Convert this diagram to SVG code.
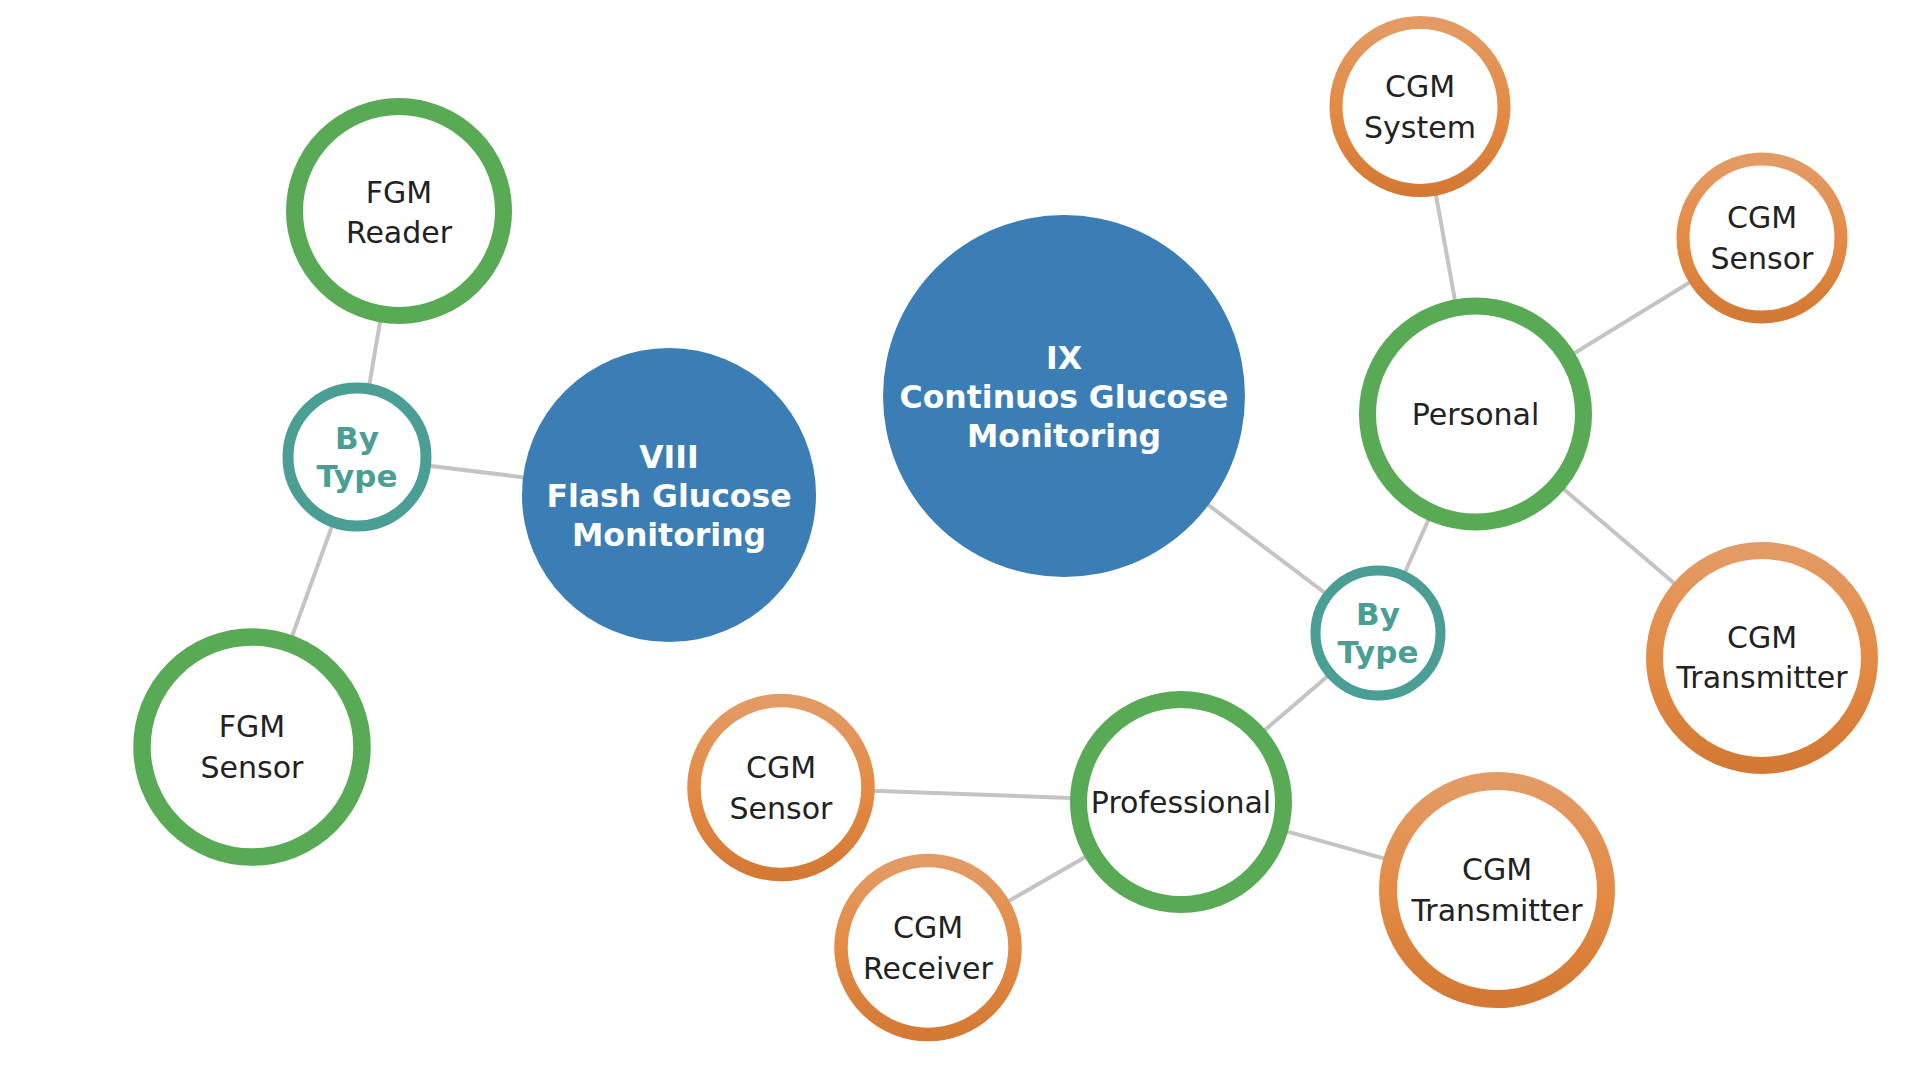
<svg xmlns="http://www.w3.org/2000/svg" width="1919" height="1080" viewBox="0 0 1919 1080">
  <defs>
    <linearGradient id="orangeGrad" x1="0" y1="0" x2="0" y2="1">
      <stop offset="0" stop-color="#e39b65"/>
      <stop offset="0.5" stop-color="#e48b45"/>
      <stop offset="1" stop-color="#d47933"/>
    </linearGradient>
  </defs>
  <style>
    .edge { stroke: #c4c4c4; stroke-width: 4; fill: none; }
    .green { fill: #ffffff; stroke: #58aa55; }
    .teal { fill: #ffffff; stroke: #4a9e94; }
    .orange { fill: #ffffff; stroke: url(#orangeGrad); }
    .blue { fill: #3a7eb5; stroke: none; }
    .lbl { font-family: "DejaVu Sans", Verdana, sans-serif; font-size: 30px; fill: #222222; text-anchor: middle; }
    .lblTeal { font-family: "DejaVu Sans", Verdana, sans-serif; font-size: 31px; font-weight: bold; fill: #4a9e94; text-anchor: middle; }
    .lblMain { font-family: "DejaVu Sans", Verdana, sans-serif; font-size: 31.5px; font-weight: bold; fill: #ffffff; text-anchor: middle; }
  </style>
  <rect width="1919" height="1080" fill="#ffffff"/>

  <g id="connectors">
    <line class="edge" x1="399" y1="211" x2="357" y2="457"/>
    <line class="edge" x1="357" y1="457" x2="669" y2="495"/>
    <line class="edge" x1="357" y1="457" x2="252" y2="747"/>
    <line class="edge" x1="1064" y1="396" x2="1378" y2="633"/>
    <line class="edge" x1="1378" y1="633" x2="1475.5" y2="414"/>
    <line class="edge" x1="1378" y1="633" x2="1181" y2="802"/>
    <line class="edge" x1="1475.5" y1="414" x2="1420" y2="106.5"/>
    <line class="edge" x1="1475.5" y1="414" x2="1762" y2="238"/>
    <line class="edge" x1="1475.5" y1="414" x2="1762" y2="658"/>
    <line class="edge" x1="1181" y1="802" x2="781" y2="787.5"/>
    <line class="edge" x1="1181" y1="802" x2="928" y2="947.5"/>
    <line class="edge" x1="1181" y1="802" x2="1497" y2="890"/>
  </g>

  <g id="node-fgm-reader">
    <circle class="green" cx="399" cy="211" r="104.5" stroke-width="17"/>
    <text class="lbl" x="399" y="202.5">FGM</text>
    <text class="lbl" x="399" y="243">Reader</text>
  </g>

  <g id="node-bytype-left">
    <circle class="teal" cx="357" cy="457" r="69" stroke-width="11"/>
    <text class="lblTeal" x="357" y="449">By</text>
    <text class="lblTeal" x="357" y="486.5">Type</text>
  </g>

  <g id="node-viii">
    <circle class="blue" cx="669" cy="495" r="147"/>
    <text class="lblMain" x="669" y="467.5">VIII</text>
    <text class="lblMain" x="669" y="506.5">Flash Glucose</text>
    <text class="lblMain" x="669" y="545.5">Monitoring</text>
  </g>

  <g id="node-fgm-sensor">
    <circle class="green" cx="252" cy="747" r="110" stroke-width="17.5"/>
    <text class="lbl" x="252" y="737">FGM</text>
    <text class="lbl" x="252" y="777.5">Sensor</text>
  </g>

  <g id="node-ix">
    <circle class="blue" cx="1064" cy="396" r="181"/>
    <text class="lblMain" x="1064" y="368.5">IX</text>
    <text class="lblMain" x="1064" y="407.5">Continuos Glucose</text>
    <text class="lblMain" x="1064" y="446.5">Monitoring</text>
  </g>

  <g id="node-bytype-right">
    <circle class="teal" cx="1378" cy="633" r="62.5" stroke-width="10"/>
    <text class="lblTeal" x="1378" y="625">By</text>
    <text class="lblTeal" x="1378" y="662.5">Type</text>
  </g>

  <g id="node-personal">
    <circle class="green" cx="1475.5" cy="414" r="108" stroke-width="17"/>
    <text class="lbl" x="1475.5" y="425">Personal</text>
  </g>

  <g id="node-cgm-system">
    <circle class="orange" cx="1420" cy="106.5" r="84" stroke-width="13"/>
    <text class="lbl" x="1420" y="97">CGM</text>
    <text class="lbl" x="1420" y="138">System</text>
  </g>

  <g id="node-cgm-sensor-personal">
    <circle class="orange" cx="1762" cy="238" r="79" stroke-width="13"/>
    <text class="lbl" x="1762" y="228">CGM</text>
    <text class="lbl" x="1762" y="268.5">Sensor</text>
  </g>

  <g id="node-cgm-transmitter-personal">
    <circle class="orange" cx="1762" cy="658" r="107.5" stroke-width="17"/>
    <text class="lbl" x="1762" y="648">CGM</text>
    <text class="lbl" x="1762" y="688">Transmitter</text>
  </g>

  <g id="node-professional">
    <circle class="green" cx="1181" cy="802" r="102.5" stroke-width="17"/>
    <text class="lbl" x="1181" y="813">Professional</text>
  </g>

  <g id="node-cgm-sensor-professional">
    <circle class="orange" cx="781" cy="787.5" r="87" stroke-width="13.5"/>
    <text class="lbl" x="781" y="778">CGM</text>
    <text class="lbl" x="781" y="818.5">Sensor</text>
  </g>

  <g id="node-cgm-receiver">
    <circle class="orange" cx="928" cy="947.5" r="87" stroke-width="13.5"/>
    <text class="lbl" x="928" y="938">CGM</text>
    <text class="lbl" x="928" y="978.5">Receiver</text>
  </g>

  <g id="node-cgm-transmitter-professional">
    <circle class="orange" cx="1497" cy="890" r="109" stroke-width="18"/>
    <text class="lbl" x="1497" y="880">CGM</text>
    <text class="lbl" x="1497" y="920.5">Transmitter</text>
  </g>
</svg>
